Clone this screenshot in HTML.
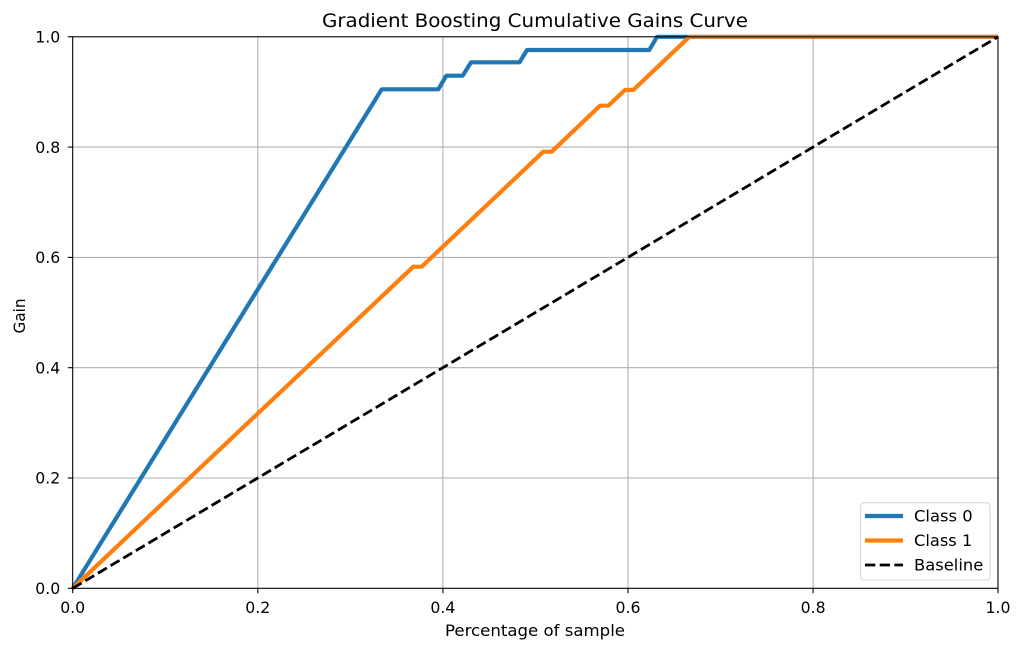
<!DOCTYPE html>
<html><head><meta charset="utf-8"><style>
html,body{margin:0;padding:0;background:#fff;}
svg{display:block;}
text{font-family:"DejaVu Sans","Liberation Sans",sans-serif;fill:#000;}
</style></head><body>
<svg width="1024" height="651" viewBox="0 0 1024 651" xmlns="http://www.w3.org/2000/svg">
<rect width="1024" height="651" fill="#fff"/>
<!-- grid -->
<g stroke="#b0b0b0" stroke-width="1.1">
<line x1="257.8" y1="36.8" x2="257.8" y2="588.3"/>
<line x1="442.9" y1="36.8" x2="442.9" y2="588.3"/>
<line x1="628" y1="36.8" x2="628" y2="588.3"/>
<line x1="813.1" y1="36.8" x2="813.1" y2="588.3"/>
<line x1="72.7" y1="478" x2="998" y2="478"/>
<line x1="72.7" y1="367.7" x2="998" y2="367.7"/>
<line x1="72.7" y1="257.4" x2="998" y2="257.4"/>
<line x1="72.7" y1="147.1" x2="998" y2="147.1"/>
</g>
<!-- series -->
<polyline fill="none" stroke="#1f77b4" stroke-width="4.2" stroke-linejoin="round" stroke-linecap="butt"
 points="72.7,588.3 381.7,89.3 438.3,89.3 446.3,75.7 462.7,75.7 471,62.3 519.5,62.3 527,50 649.3,50 657,36.8 998,36.8"/>
<polyline fill="none" stroke="#ff7f0e" stroke-width="4.2" stroke-linejoin="round" stroke-linecap="butt"
 points="72.7,588.3 413.3,266.7 421.7,266.7 543.3,151.7 551.7,151.7 600,105.7 608.3,105.7 625,90 633.3,90 689.3,36.8 998,36.8"/>
<line x1="72.7" y1="588.3" x2="998" y2="36.8" stroke="#000" stroke-width="2.8" stroke-dasharray="10.3,4.4"/>
<!-- axes spines -->
<rect x="72.7" y="36.8" width="925.3" height="551.5" fill="none" stroke="#000" stroke-width="1.1"/>
<!-- ticks -->
<g stroke="#000" stroke-width="1.1">
<line x1="72.7" y1="588.3" x2="72.7" y2="593.2"/>
<line x1="257.8" y1="588.3" x2="257.8" y2="593.2"/>
<line x1="442.9" y1="588.3" x2="442.9" y2="593.2"/>
<line x1="628" y1="588.3" x2="628" y2="593.2"/>
<line x1="813.1" y1="588.3" x2="813.1" y2="593.2"/>
<line x1="998" y1="588.3" x2="998" y2="593.2"/>
<line x1="67.8" y1="588.3" x2="72.7" y2="588.3"/>
<line x1="67.8" y1="478" x2="72.7" y2="478"/>
<line x1="67.8" y1="367.7" x2="72.7" y2="367.7"/>
<line x1="67.8" y1="257.4" x2="72.7" y2="257.4"/>
<line x1="67.8" y1="147.1" x2="72.7" y2="147.1"/>
<line x1="67.8" y1="36.8" x2="72.7" y2="36.8"/>
</g>
<g font-size="16">
<text x="60.2" y="613" textLength="25" lengthAdjust="spacingAndGlyphs">0.0</text>
<text x="245.3" y="613" textLength="25" lengthAdjust="spacingAndGlyphs">0.2</text>
<text x="430.4" y="613" textLength="25" lengthAdjust="spacingAndGlyphs">0.4</text>
<text x="615.5" y="613" textLength="25" lengthAdjust="spacingAndGlyphs">0.6</text>
<text x="800.6" y="613" textLength="25" lengthAdjust="spacingAndGlyphs">0.8</text>
<text x="985.5" y="613" textLength="25" lengthAdjust="spacingAndGlyphs">1.0</text>
</g>
<g font-size="16">
<text x="35.3" y="594" textLength="25" lengthAdjust="spacingAndGlyphs">0.0</text>
<text x="35.3" y="483.7" textLength="25" lengthAdjust="spacingAndGlyphs">0.2</text>
<text x="35.3" y="373.4" textLength="25" lengthAdjust="spacingAndGlyphs">0.4</text>
<text x="35.3" y="263.1" textLength="25" lengthAdjust="spacingAndGlyphs">0.6</text>
<text x="35.3" y="152.8" textLength="25" lengthAdjust="spacingAndGlyphs">0.8</text>
<text x="35.3" y="42.5" textLength="25" lengthAdjust="spacingAndGlyphs">1.0</text>
</g>
<text x="445" y="636" font-size="16" textLength="180" lengthAdjust="spacingAndGlyphs">Percentage of sample</text>
<text x="0" y="0" font-size="16" textLength="35" lengthAdjust="spacingAndGlyphs" transform="translate(25 333.5) rotate(-90)">Gain</text>
<text x="322" y="27" font-size="19" textLength="426" lengthAdjust="spacingAndGlyphs">Gradient Boosting Cumulative Gains Curve</text>
<!-- legend -->
<rect x="860.7" y="502.7" width="129.3" height="77.3" rx="3" ry="3" fill="#fff" fill-opacity="0.8" stroke="#d9d9d9" stroke-width="1.1"/>
<line x1="865" y1="516" x2="903" y2="516" stroke="#1f77b4" stroke-width="4.2"/>
<line x1="865" y1="540.5" x2="903" y2="540.5" stroke="#ff7f0e" stroke-width="4.2"/>
<line x1="865" y1="565" x2="903" y2="565" stroke="#000" stroke-width="2.8" stroke-dasharray="10.3,4.4"/>
<g font-size="16">
<text x="914" y="521.5" textLength="58.7" lengthAdjust="spacingAndGlyphs">Class 0</text>
<text x="914" y="546" textLength="58.3" lengthAdjust="spacingAndGlyphs">Class 1</text>
<text x="914" y="570.5" textLength="69.3" lengthAdjust="spacingAndGlyphs">Baseline</text>
</g>
</svg>
</body></html>
